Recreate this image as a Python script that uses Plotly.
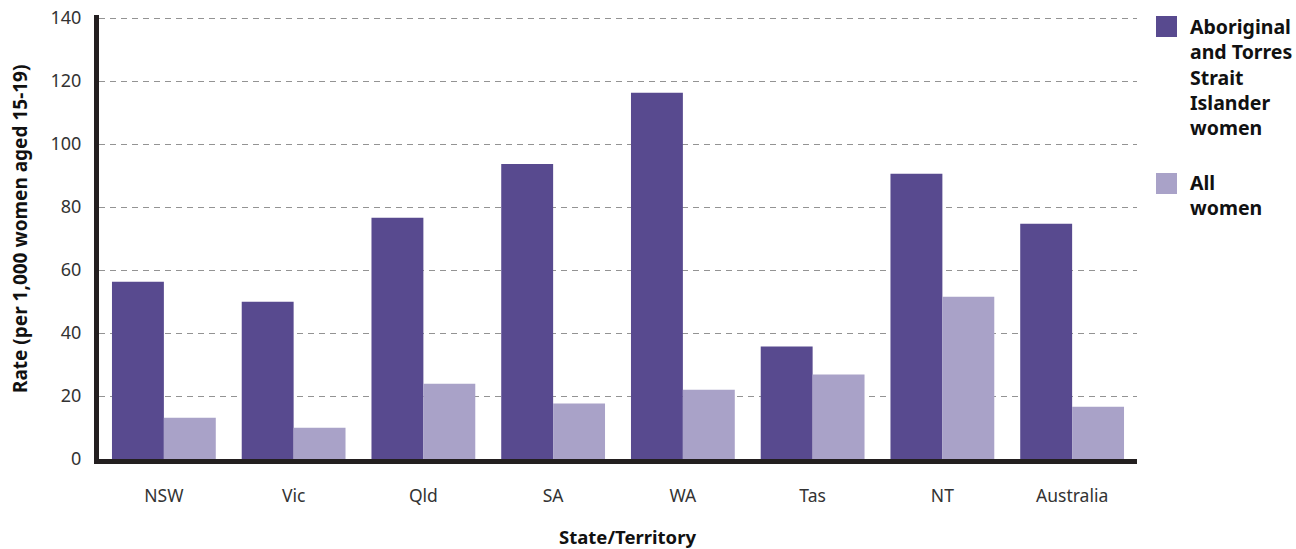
import plotly.graph_objects as go

categories = ["NSW", "Vic", "Qld", "SA", "WA", "Tas", "NT", "Australia"]
indigenous = [56.3, 49.9, 76.6, 93.7, 116.3, 35.7, 90.6, 74.7]
all_women = [13.1, 9.9, 23.9, 17.6, 22.0, 26.8, 51.5, 16.6]
series_names = ["Aboriginal<br>and Torres<br>Strait<br>Islander<br>women", "All<br>women"]
y_ticks = [0, 20, 40, 60, 80, 100, 120, 140]

DARK = "#584a8f"
LIGHT = "#a9a2c8"
FONT = "Noto Sans"

W, H = 1296, 549
L, R, T, B = 99, 159, 15, 90
PW, PH = W - L - R, H - T - B


def px(xp):
    return (xp - L) / PW


def py(yp):
    return (H - B - yp) / PH


fig = go.Figure()
colors = [DARK, LIGHT]
for name, vals, col in zip(series_names, [indigenous, all_women], colors):
    fig.add_trace(go.Bar(x=categories, y=vals, name=name, showlegend=False,
                         marker=dict(color=col, line=dict(width=0))))

fig.update_layout(
    width=W, height=H,
    margin=dict(l=L, r=R, t=T, b=B, autoexpand=False),
    plot_bgcolor="white", paper_bgcolor="white",
    barmode="group", bargap=0.2, bargroupgap=0,
    font=dict(family=FONT, color="#333333", size=16),
    showlegend=False,
)
fig.update_yaxes(
    range=[0, 141], tickvals=y_ticks, automargin=False,
    showgrid=True, gridcolor="#939393", griddash="6px,5px", gridwidth=1,
    showline=True, linecolor="#231f20", linewidth=5,
    ticks="outside", ticklen=9, tickcolor="rgba(0,0,0,0)",
    tickfont=dict(family=FONT, size=18, color="#333333"),
    zeroline=False,
)
fig.update_xaxes(
    automargin=False,
    showline=True, linecolor="#231f20", linewidth=5,
    ticks="outside", ticklen=17, tickcolor="rgba(0,0,0,0)",
    tickfont=dict(family=FONT, size=17.5, color="#333333"),
    showgrid=False,
)

# axis titles
fig.add_annotation(text="<b>Rate (per 1,000 women aged 15-19)</b>", xref="paper", yref="paper",
                   x=px(20), y=py(229), xanchor="center", yanchor="middle", textangle=-90,
                   showarrow=False, font=dict(family=FONT, size=19, color="#111111"))
fig.add_annotation(text="<b>State/Territory</b>", xref="paper", yref="paper",
                   x=px(627), y=py(536), xanchor="center", yanchor="middle",
                   showarrow=False, font=dict(family=FONT, size=18.5, color="#111111"))

# legend (manual, to match large square keys)
legend_key_tops = [16, 173]
legend_text_centers = [77.5, 195]
for name, col, ktop, tc in zip(series_names, colors, legend_key_tops, legend_text_centers):
    fig.add_shape(type="rect", xref="paper", yref="paper",
                  x0=px(1156), x1=px(1177), y0=py(ktop + 21), y1=py(ktop),
                  fillcolor=col, line=dict(width=0))
    fig.add_annotation(text="<b>" + name + "</b>", xref="paper", yref="paper",
                       x=px(1188), y=py(tc), xanchor="left", yanchor="middle", align="left",
                       showarrow=False, font=dict(family=FONT, size=19.5, color="#111111"))

fig.write_html("out.html", config={"displayModeBar": False},
               post_script="document.body.style.margin='0';")
